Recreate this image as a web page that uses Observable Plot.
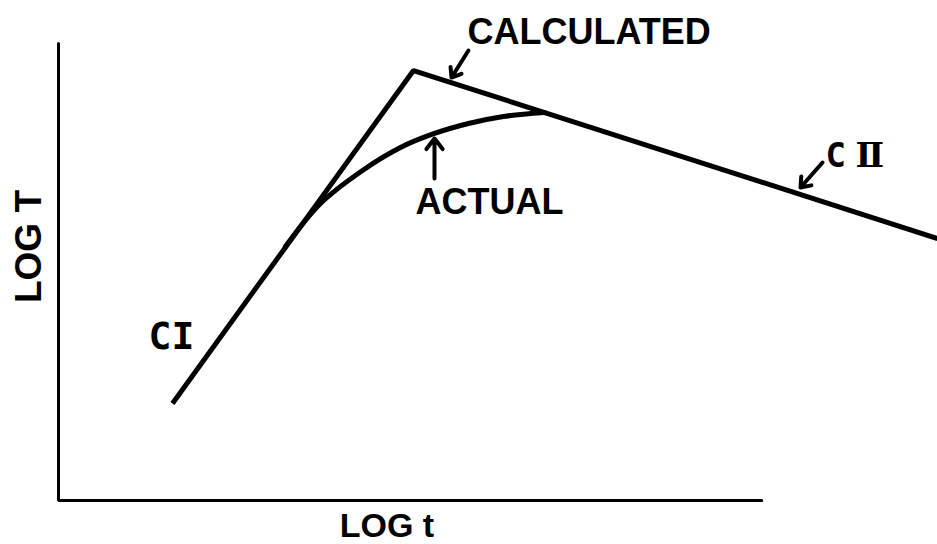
<!DOCTYPE html>
<html><head><meta charset="utf-8">
<script src="https://cdn.jsdelivr.net/npm/d3@7"></script>
<script src="https://cdn.jsdelivr.net/npm/@observablehq/plot@0.6"></script>
<style>body{margin:0;background:#fff}</style>
</head><body><div id="chart"></div>
<script>
// Frame (L-shaped axes) in data units
const frameX = [0, 0, 10];
const frameY = [10, 0, 0];
// Calculated curve: CI segment, break point, CII segment
const calcLogt = [1.621, 5.048, 12.5];
const calcLogT = [2.123, 9.409, 5.733];
// Actual (rounded) curve
const actualLogt = [3.228, 3.726, 4.323, 4.863, 5.347, 5.830, 6.328, 6.911];
const actualLogT = [5.558, 6.499, 7.221, 7.724, 8.031, 8.249, 8.403, 8.490];
// Pointer arrows
const arrowNames = ["CALCULATED", "ACTUAL", "CII"];
const arrowX1 = [5.830, 5.347, 10.865];
const arrowY1 = [9.847, 7.046, 7.396];
const arrowX2 = [5.589, 5.347, 10.552];
const arrowY2 = [9.256, 7.921, 6.849];
// Labels
const labelText = ["CALCULATED", "ACTUAL"];
const labelX = [5.816, 5.077];
const labelY = [10.0, 6.280];
// Curve names: letter part and Roman-numeral part
const curveLetter = ["CI", "C"];
const curveLetterX = [1.280, 10.907];
const curveLetterY = [3.326, 7.287];
const curveNumeral = ["\u2161"];
const curveNumeralX = [11.334];
const curveNumeralY = [7.287];
const xTitle = "LOG t", xTitleX = 4.671, xTitleY = -0.788;
const yTitle = "LOG T", yTitleX = -0.412, yTitleY = 5.558;

const frame = frameX.map((x, i) => ({x, y: frameY[i]}));
const calc = calcLogt.map((x, i) => ({x, y: calcLogT[i]}));
const actual = actualLogt.map((x, i) => ({x, y: actualLogT[i]}));
const arrows = arrowNames.map((n, i) => ({n, x1: arrowX1[i], y1: arrowY1[i], x2: arrowX2[i], y2: arrowY2[i]}));
const labels = labelText.map((t, i) => ({t, x: labelX[i], y: labelY[i]}));
const letters = curveLetter.map((t, i) => ({t, x: curveLetterX[i], y: curveLetterY[i], s: i === 0 ? 38 : 34}));
const numerals = curveNumeral.map((t, i) => ({t, x: curveNumeralX[i], y: curveNumeralY[i]}));

const sans = "'Liberation Sans', Arial, sans-serif";
const chart = Plot.plot({
  width: 937, height: 544,
  marginLeft: 58, marginRight: 0, marginTop: 43, marginBottom: 44,
  x: {domain: [0, 12.5], axis: null},
  y: {domain: [0, 10], axis: null},
  style: {background: "#fff", overflow: "visible"},
  marks: [
    Plot.line(frame, {x: "x", y: "y", stroke: "#000", strokeWidth: 3, strokeLinejoin: "miter"}),
    Plot.line(calc, {x: "x", y: "y", stroke: "#000", strokeWidth: 5, strokeLinejoin: "miter", strokeLinecap: "butt"}),
    Plot.line(actual, {x: "x", y: "y", curve: "catmull-rom", stroke: "#000", strokeWidth: 5}),
    Plot.arrow(arrows, {x1: "x1", y1: "y1", x2: "x2", y2: "y2", stroke: "#000", strokeWidth: 4, headAngle: 75, headLength: 8}),
    Plot.text(labels, {x: "x", y: "y", text: "t", textAnchor: "start", lineAnchor: "bottom", fontSize: 36, fontWeight: "bold", fontFamily: sans, fill: "#000"}),
    Plot.text(letters, {x: "x", y: "y", text: "t", textAnchor: "start", lineAnchor: "bottom", fontSize: "s", fontWeight: "bold", fontFamily: "'DejaVu Sans Mono', monospace", fill: "#000"}),
    Plot.text(numerals, {x: "x", y: "y", text: "t", textAnchor: "start", lineAnchor: "bottom", fontSize: 34, fontWeight: "bold", fontFamily: "'DejaVu Serif', 'Liberation Serif', serif", fill: "#000"}),
    Plot.text([xTitle], {x: () => xTitleX, y: () => xTitleY, text: d => d, textAnchor: "middle", lineAnchor: "bottom", fontSize: 34, fontWeight: "bold", fontFamily: sans, fill: "#000"}),
    Plot.text([yTitle], {x: () => yTitleX, y: () => yTitleY, text: d => d, rotate: -90, textAnchor: "middle", lineAnchor: "middle", fontSize: 37, fontWeight: "bold", fontFamily: sans, fill: "#000"})
  ]
});
document.getElementById("chart").appendChild(chart);
</script>
</body></html>
